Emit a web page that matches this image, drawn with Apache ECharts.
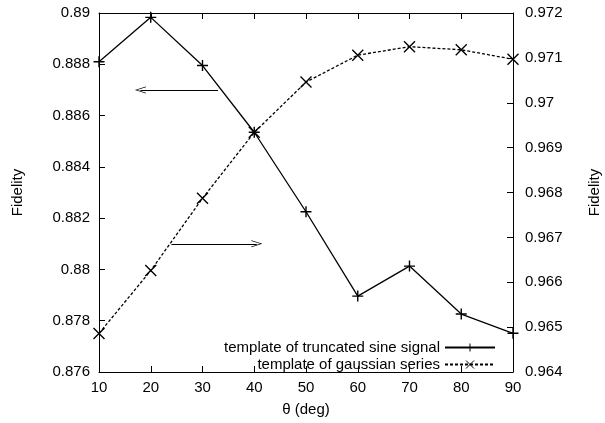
<!DOCTYPE html>
<html>
<head>
<meta charset="utf-8">
<script src="https://cdn.jsdelivr.net/npm/echarts@6/dist/echarts.min.js"></script>
<style>html,body{margin:0;padding:0;background:#fff;}#c{width:605px;height:423px;}</style>
</head>
<body>
<div id="c"></div>
<script>
// Data
var theta = [10, 20, 30, 40, 50, 60, 70, 80, 90];
var sineFidelity = [0.8881, 0.88983, 0.88795, 0.88535, 0.88225, 0.87896, 0.88013, 0.87826, 0.87751];
var gaussFidelity = [0.96486, 0.96626, 0.96787, 0.96934, 0.97046, 0.97106, 0.97125, 0.97118, 0.97097];
var leftTicks = { min: 0.876, max: 0.89, interval: 0.002 };
var rightTicks = { min: 0.964, max: 0.972, interval: 0.001 };
var xTicks = { min: 10, max: 90, interval: 10 };
var sineName = 'template of truncated sine signal';
var gaussName = 'template of gaussian series';
// annotation arrows (left-axis coordinates): [from, to]
var arrowLeft = [[33, 0.887], [18, 0.887]];
var arrowRight = [[24, 0.881], [40.5, 0.881]];

var FONT = '"Liberation Sans", Arial, Helvetica, sans-serif';
var plusPath = 'path://M0,5L10,5M5,0L5,10';
var crossPath = 'path://M0,0L10,10M10,0L0,10';
var headPath = 'path://M0,12L5,0L10,12L9,12L5,2.4L1,12Z';

function pairs(xs, ys) { return xs.map(function (x, i) { return [x, ys[i]]; }); }

var chart = echarts.init(document.getElementById('c'), null, { renderer: 'canvas' });
var axisText = { color: '#000', fontFamily: FONT, fontSize: 15 };
var lineBlack = { lineStyle: { color: '#000', width: 1 } };

function legendFor(name, top) {
  return {
    data: [name], orient: 'horizontal', align: 'right',
    right: 109, top: top, itemWidth: 50, itemHeight: 10, itemGap: 0, padding: 0,
    itemStyle: { borderWidth: 1 },
    textStyle: { color: '#000', fontFamily: FONT, fontSize: 15, padding: [0, 0, 0, 0] },
    selectedMode: false
  };
}

chart.setOption({
  animation: false,
  backgroundColor: '#fff',
  textStyle: { fontFamily: FONT },
  grid: { left: 99, right: 92, top: 13, bottom: 51, containLabel: false, outerBoundsMode: 'none' },
  xAxis: [{
    type: 'value', min: xTicks.min, max: xTicks.max, interval: xTicks.interval,
    position: 'bottom',
    name: 'θ (deg)', nameLocation: 'middle', nameGap: 30,
    nameTextStyle: axisText,
    axisLine: lineBlack, axisTick: { inside: true, length: 6, lineStyle: { color: '#000' } },
    axisLabel: Object.assign({ margin: 8 }, axisText),
    splitLine: { show: false }
  }, {
    type: 'value', min: xTicks.min, max: xTicks.max, interval: xTicks.interval,
    position: 'top',
    axisLine: lineBlack, axisTick: { inside: true, length: 6, lineStyle: { color: '#000' } },
    axisLabel: { show: false }, splitLine: { show: false }
  }],
  yAxis: [{
    type: 'value', min: leftTicks.min, max: leftTicks.max, interval: leftTicks.interval,
    position: 'left',
    name: 'Fidelity', nameLocation: 'middle', nameGap: 74, nameRotate: 90,
    nameTextStyle: axisText,
    axisLine: { show: true, lineStyle: { color: '#000', width: 1 } },
    axisTick: { show: true, inside: true, length: 6, lineStyle: { color: '#000' } },
    axisLabel: Object.assign({ margin: 9 }, axisText),
    splitLine: { show: false }
  }, {
    type: 'value', min: rightTicks.min, max: rightTicks.max, interval: rightTicks.interval,
    position: 'right',
    name: 'Fidelity', nameLocation: 'middle', nameGap: 74, nameRotate: 90,
    nameTextStyle: axisText,
    axisLine: { show: true, lineStyle: { color: '#000', width: 1 } },
    axisTick: { show: true, inside: true, length: 6, lineStyle: { color: '#000' } },
    axisLabel: Object.assign({ margin: 12 }, axisText),
    splitLine: { show: false }
  }],
  legend: [legendFor(sineName, 340), legendFor(gaussName, 357)],
  series: [{
    name: sineName, type: 'line', xAxisIndex: 0, yAxisIndex: 0,
    data: pairs(theta, sineFidelity),
    clip: false,
    symbol: plusPath, symbolSize: 11, showSymbol: true,
    lineStyle: { color: '#000', width: 1.3, type: 'solid' },
    itemStyle: { color: '#000', borderColor: '#000', borderWidth: 1.4 },
    emphasis: { disabled: true },
    markLine: {
      silent: true, symbol: ['none', headPath], symbolSize: [7, 11],
      label: { show: false },
      lineStyle: { color: '#000', width: 1, type: 'solid' },
      emphasis: { disabled: true },
      data: [
        [{ coord: arrowLeft[0] }, { coord: arrowLeft[1] }],
        [{ coord: arrowRight[0] }, { coord: arrowRight[1] }]
      ]
    }
  }, {
    name: gaussName, type: 'line', xAxisIndex: 0, yAxisIndex: 1,
    data: pairs(theta, gaussFidelity),
    clip: false,
    symbol: crossPath, symbolSize: 11, showSymbol: true,
    lineStyle: { color: '#000', width: 1.3, type: [3, 2] },
    itemStyle: { color: '#000', borderColor: '#000', borderWidth: 1.4 },
    emphasis: { disabled: true }
  }]
});
</script>
</body>
</html>
